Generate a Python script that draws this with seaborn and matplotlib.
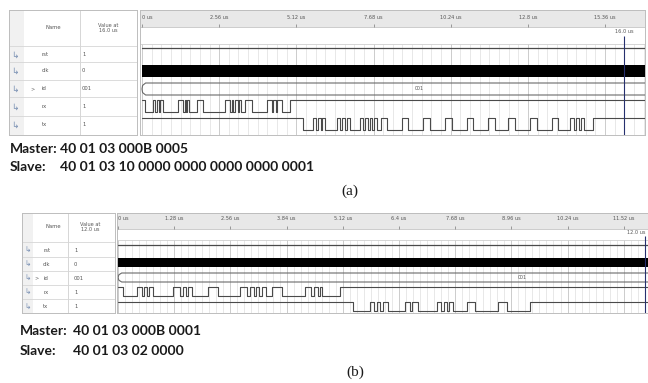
import numpy as np
import matplotlib
matplotlib.use("Agg")
import matplotlib.pyplot as plt
import seaborn as sns

# --- values ---
signal_names = ["rst", "clk", "id", "rx", "tx"]
values_a = ["1", "0", "001", "1", "1"]
values_b = ["1", "0", "001", "1", "1"]
bus_value = "001"

ticks_a = [0, 2.56, 5.12, 7.68, 10.24, 12.8, 15.36]
tick_labels_a = ["0 us", "2.56 us", "5.12 us", "7.68 us", "10.24 us", "12.8 us", "15.36 us"]
cursor_a = 16.0
ticks_b = [0, 1.28, 2.56, 3.84, 5.12, 6.4, 7.68, 8.96, 10.24, 11.52]
tick_labels_b = ["0 us", "1.28 us", "2.56 us", "3.84 us", "5.12 us", "6.4 us",
                 "7.68 us", "8.96 us", "10.24 us", "11.52 us"]
cursor_b = 12.0

# edge times in us; rx / tx start high and toggle at every edge
rx_edges_a = [0.10, 0.36, 0.43, 0.50, 0.56, 0.60, 0.70, 1.19, 1.36, 1.41, 1.46, 1.49,
              1.56, 1.82, 2.02, 2.75, 2.92, 2.99, 3.03, 3.08, 3.18, 3.22, 3.28, 3.42,
              3.65, 4.15, 4.31, 4.36, 4.43, 4.48, 4.64, 4.91]
tx_edges_a = [5.34, 5.67, 5.77, 5.84, 5.94, 5.97, 6.07, 6.47, 6.57, 6.63, 6.73, 6.80,
              6.90, 7.23, 7.33, 7.40, 7.50, 7.56, 7.63, 7.69, 7.79, 7.93, 8.13, 8.62,
              8.82, 9.32, 9.55, 10.05, 10.28, 10.78, 10.98, 11.48, 11.71, 12.14, 12.37,
              12.87, 13.10, 13.60, 13.80, 14.20, 14.33, 14.39, 14.49, 14.56, 14.66, 14.96]
rx_edges_b = [0.11, 0.43, 0.55, 0.59, 0.66, 0.71, 0.80, 1.25, 1.41, 1.48, 1.55, 1.59,
              1.69, 2.05, 2.28, 2.78, 2.94, 3.01, 3.10, 3.14, 3.21, 3.28, 3.37, 3.51,
              3.74, 4.26, 4.40, 4.46, 4.56, 4.60, 4.65, 5.06]
tx_edges_b = [5.35, 5.74, 5.83, 5.90, 5.97, 6.04, 6.15, 6.54, 6.65, 6.70, 6.83, 7.27,
              7.36, 7.43, 7.49, 7.54, 7.63, 7.95, 8.13, 8.66, 8.86, 9.39]

master_a = "40 01 03 000B 0005"
slave_a = "40 01 03 10 0000 0000 0000 0000 0001"
master_b = "40 01 03 000B 0001"
slave_b = "40 01 03 02 0000"

W, H = 648, 383
LINE = "#4a4a4a"
BORDER = "#bdbdbd"

sns.set_style("white")
plt.rcParams["font.family"] = ["DejaVu Sans"]

fig = plt.figure(figsize=(W / 100, H / 100), dpi=100)


def px_axes(box):
    x0, y0, x1, y1 = box
    ax = fig.add_axes([x0 / W, 1 - y1 / H, (x1 - x0) / W, (y1 - y0) / H])
    for s in ax.spines.values():
        s.set_color(BORDER)
        s.set_linewidth(0.7)
    ax.set_xticks([])
    ax.set_yticks([])
    return ax


def step_line(edges, t_end, center, amp):
    t = [0.0] + list(edges) + [t_end]
    lev = [1 - i % 2 for i in range(len(edges) + 1)]
    lev.append(lev[-1])
    y = [center + amp * (1 - 2 * v) for v in lev]
    return t, y


def draw_panel(lay, ticks, tick_labels, cursor, values, rx_edges, tx_edges):
    # ---- name / value table ----
    axn = px_axes(lay["names_box"])
    nx0, ny0, nx1, ny1 = lay["names_box"]
    axn.set_xlim(nx0, nx1)
    axn.set_ylim(ny1, ny0)
    axn.axvspan(nx0, lay["icon_sep"], color="#f1f1f1", lw=0)
    axn.axvline(lay["col_sep"], color="#d0d0d0", lw=0.6)
    for y in lay["row_seps"]:
        axn.axhline(y, color="#d6d6d6", lw=0.6)
    axn.text(lay["name_hdr_x"], lay["hdr_y"], "Name", fontsize=3.8, color="#555",
             ha="center", va="center")
    axn.text(lay["value_hdr_x"], lay["hdr_y"], "Value at\n%.1f us" % cursor, fontsize=3.6,
             color="#555", ha="center", va="center", linespacing=1.1)
    for i, (name, val) in enumerate(zip(signal_names, values)):
        y = lay["label_ys"][i]
        axn.text(lay["icon_x"], y, "\u21b3", fontsize=lay["icon_fs"], color="#7d93b5",
                 ha="center", va="center")
        if name == "id":
            axn.text(lay["arrow_x"], y, ">", fontsize=3.5, color="#666", ha="center", va="center")
        axn.text(lay["name_x"], y, name, fontsize=3.8, color="#555", va="center")
        axn.text(lay["value_x"], y, val, fontsize=3.8, color="#555", va="center")

    # ---- waveform pane ----
    ax = px_axes(lay["wave_box"])
    wx0, wy0, wx1, wy1 = lay["wave_box"]
    t_left = (wx0 - lay["x_zero"]) / lay["px_us"]
    t_end = (wx1 - lay["x_zero"]) / lay["px_us"]
    ax.set_xlim(t_left, t_end)
    ax.set_ylim(wy1, wy0)

    ax.axhspan(wy0, lay["hdr_bottom"], color="#e8e8e8", lw=0, zorder=0)
    ax.axhline(lay["hdr_bottom"], color="#c4c4c4", lw=0.6)
    ax.axhline(lay["grid_top"], color="#cfcfcf", lw=0.6)
    grid = np.arange(0, t_end, lay["grid_step"])
    ax.vlines(grid, lay["grid_top"], wy1, color="#dedede", lw=0.5, zorder=0)
    ax.vlines(grid[::8], lay["grid_top"], wy1, color="#c8c8c8", lw=0.6, zorder=0)

    for t, lab in zip(ticks, tick_labels):
        ax.text(t, lay["tick_y"], lab, fontsize=3.6, color="#555",
                ha="left" if t == 0 else "center", va="center")
        ax.vlines(t, lay["hdr_bottom"] - 3, lay["hdr_bottom"], color="#777", lw=0.5)

    c = lay["centers"]
    amp = lay["amp"]
    # rst: held high
    sns.lineplot(x=[0, t_end], y=[c[0] - amp, c[0] - amp], color=LINE, lw=0.9, ax=ax)
    # clk: toggles too fast to resolve -> solid band
    ax.fill_between([0, t_end], c[1] - amp, c[1] + amp, color="black", lw=0)
    # id bus
    tb = 0.12 * lay["px_ref"]
    ax.plot([t_end, tb, 0.02, 0, 0.02, tb, t_end],
            [c[2] - amp, c[2] - amp, c[2] - amp * 0.6, c[2], c[2] + amp * 0.6,
             c[2] + amp, c[2] + amp], color="#6a6a6a", lw=0.8)
    ax.text(lay["bus_t"], c[2], bus_value, fontsize=3.4, color="#555", ha="center", va="center")
    # rx / tx
    for edges, cy in [(rx_edges, c[3]), (tx_edges, c[4])]:
        t, y = step_line(edges, t_end, cy, amp)
        sns.lineplot(x=t, y=y, drawstyle="steps-post", estimator=None, sort=False,
                     color=LINE, lw=0.8, ax=ax)
    # cursor
    ax.vlines(cursor, lay["cursor_top"], wy1, color="#26306e", lw=0.8, zorder=5)
    ax.text(cursor + lay["cursor_dx"], lay["cursor_y"], "%.1f us" % cursor, fontsize=3.6,
            color="#555", ha=lay["cursor_ha"], va="center")
    ax.set_xlabel("")
    ax.set_ylabel("")
    ax.set_xticks([])
    ax.set_yticks([])


lay_a = dict(names_box=(9, 10, 137, 135), wave_box=(140, 10, 645, 135),
             x_zero=142, px_us=30.15, px_ref=1.0, grid_step=0.32,
             hdr_bottom=27, tick_y=18, cursor_y=32, cursor_top=36, grid_top=44,
             cursor_ha="center", cursor_dx=0.0,
             centers=[54, 71, 89, 106, 124], amp=6, bus_t=9.2,
             icon_sep=24, col_sep=80, row_seps=[46, 62.5, 80, 97.5, 115.5],
             hdr_y=28, name_hdr_x=53, value_hdr_x=108,
             label_ys=[55, 71, 89, 107, 125], icon_x=15, icon_fs=6.5,
             arrow_x=32.5, name_x=42, value_x=82)
lay_b = dict(names_box=(22, 213, 115, 313), wave_box=(117, 213, 648, 313),
             x_zero=118, px_us=43.9, px_ref=0.7, grid_step=0.16,
             hdr_bottom=229, tick_y=219, cursor_y=232, cursor_top=236, grid_top=240,
             cursor_ha="right", cursor_dx=0.02,
             centers=[249, 262.5, 277.5, 291, 306], amp=4.5, bus_t=9.2,
             icon_sep=33, col_sep=68, row_seps=[242, 256.5, 270.5, 284.5, 299],
             hdr_y=227, name_hdr_x=53, value_hdr_x=90,
             label_ys=[250, 264, 278, 292, 307], icon_x=27.5, icon_fs=5.5,
             arrow_x=36.5, name_x=43, value_x=74)

draw_panel(lay_a, ticks_a, tick_labels_a, cursor_a, values_a, rx_edges_a, tx_edges_a)
draw_panel(lay_b, ticks_b, tick_labels_b, cursor_b, values_b, rx_edges_b, tx_edges_b)


def ftext(x, y, s, **kw):
    fig.text(x / W, 1 - y / H, s, va="center", **kw)


bold = dict(fontsize=10, fontweight="bold", family=["Lato", "DejaVu Sans"], color="#1a1a1a")
ftext(10, 149, "Master:", **bold)
ftext(60, 149, master_a, **bold)
ftext(10, 167, "Slave:", **bold)
ftext(60, 167, slave_a, **bold)
ftext(350, 191, "(a)", fontsize=11, family=["Liberation Serif"], ha="center", color="#1a1a1a")
ftext(20, 331, "Master:", **bold)
ftext(73, 331, master_b, **bold)
ftext(20, 351, "Slave:", **bold)
ftext(73, 351, slave_b, **bold)
ftext(355, 372, "(b)", fontsize=11, family=["Liberation Serif"], ha="center", color="#1a1a1a")

fig.savefig("out.png", dpi=100)
